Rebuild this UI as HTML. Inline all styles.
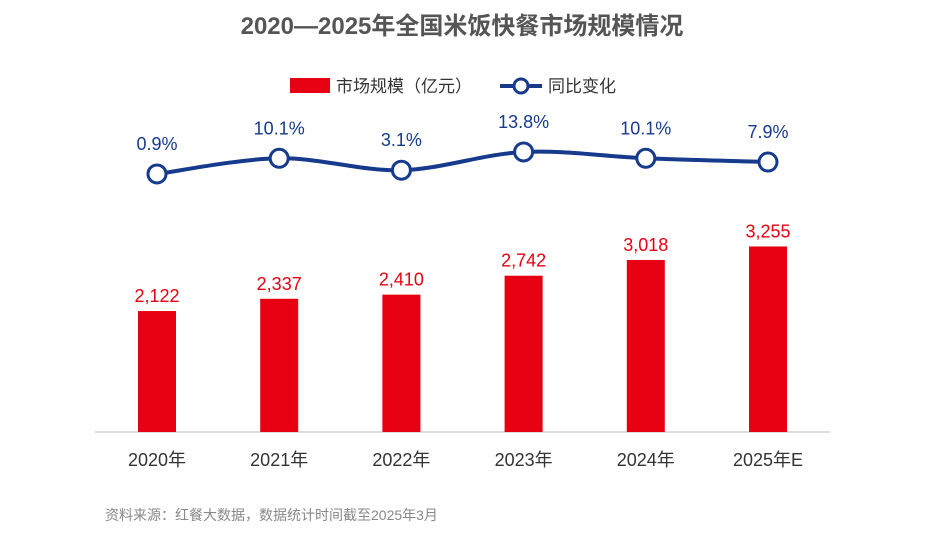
<!DOCTYPE html>
<html><head><meta charset="utf-8"><style>
body{margin:0;background:#fff;}
svg text{font-family:"Liberation Sans","Noto Sans CJK SC",sans-serif;}
</style></head><body>
<svg id="chart" width="925" height="533" viewBox="0 0 925 533">
<text x="462" y="34" text-anchor="middle" font-size="24" font-weight="bold" fill="#555">2020—2025年全国米饭快餐市场规模情况</text>
<g>
<rect x="290" y="78" width="40" height="15" fill="#e60012"/>
<text x="336" y="92" font-size="17" fill="#333">市场规模（亿元）</text>
<line x1="500" y1="86" x2="542" y2="86" stroke="#163a8c" stroke-width="4"/>
<circle cx="521" cy="86" r="7" fill="#fff" stroke="#163a8c" stroke-width="3"/>
<text x="548" y="92" font-size="17" fill="#333">同比变化</text>
</g>
<line x1="95" y1="432" x2="830" y2="432" stroke="#bbb" stroke-width="1"/>
<g id="bars"></g><g id="line"></g>
<text x="105" y="520" font-size="14" fill="#888">资料来源：红餐大数据，数据统计时间截至2025年3月</text>
</svg>
<script>
const categories=["2020年","2021年","2022年","2023年","2024年","2025年E"];
const marketSize=[2122,2337,2410,2742,3018,3255];
const marketLabels=["2,122","2,337","2,410","2,742","3,018","3,255"];
const growth=[0.9,10.1,3.1,13.8,10.1,7.9];
const growthLabels=["0.9%","10.1%","3.1%","13.8%","10.1%","7.9%"];
const NS="http://www.w3.org/2000/svg";
const xc=i=>157+i*122.2;
const yBar=v=>432-v*0.0570;
const yLine=v=>175.5-v*1.705;
function mk(t,a,p){const e=document.createElementNS(NS,t);for(const k in a)e.setAttribute(k,a[k]);p.appendChild(e);return e;}
const bars=document.getElementById('bars'),line=document.getElementById('line');
categories.forEach((c,i)=>{
 const r=mk('rect',{x:xc(i)-19,y:yBar(marketSize[i]),width:38,height:432-yBar(marketSize[i]),fill:'#e60012'},bars);
 
 
 const t=mk('text',{x:xc(i),y:yBar(marketSize[i])-9,'text-anchor':'middle','font-size':18,fill:'#e60012'},bars);t.textContent=marketLabels[i];
 
 
 const x=mk('text',{x:xc(i),y:466,'text-anchor':'middle','font-size':18,fill:'#333'},bars);x.textContent=c;
 
 
});
const pts=growth.map((v,i)=>[xc(i),yLine(v)]);
let d='M'+pts[0][0]+','+pts[0][1];
for(let i=0;i<pts.length-1;i++){const p0=pts[i-1]||pts[i],p1=pts[i],p2=pts[i+1],p3=pts[i+2]||p2;
 d+=` C${p1[0]+(p2[0]-p0[0])/6},${p1[1]+(p2[1]-p0[1])/6} ${p2[0]-(p3[0]-p1[0])/6},${p2[1]-(p3[1]-p1[1])/6} ${p2[0]},${p2[1]}`;}
const path=mk('path',{d:d,fill:'none',stroke:'#163a8c','stroke-width':4},line);


pts.forEach((p,i)=>{
 const c=mk('circle',{cx:p[0],cy:p[1],r:9,fill:'#fff',stroke:'#163a8c','stroke-width':3},line);
 
 
 const t=mk('text',{x:p[0],y:p[1]-24,'text-anchor':'middle','font-size':18,fill:'#163a8c'},line);t.textContent=growthLabels[i];
 
 
});
</script>
</body></html>
